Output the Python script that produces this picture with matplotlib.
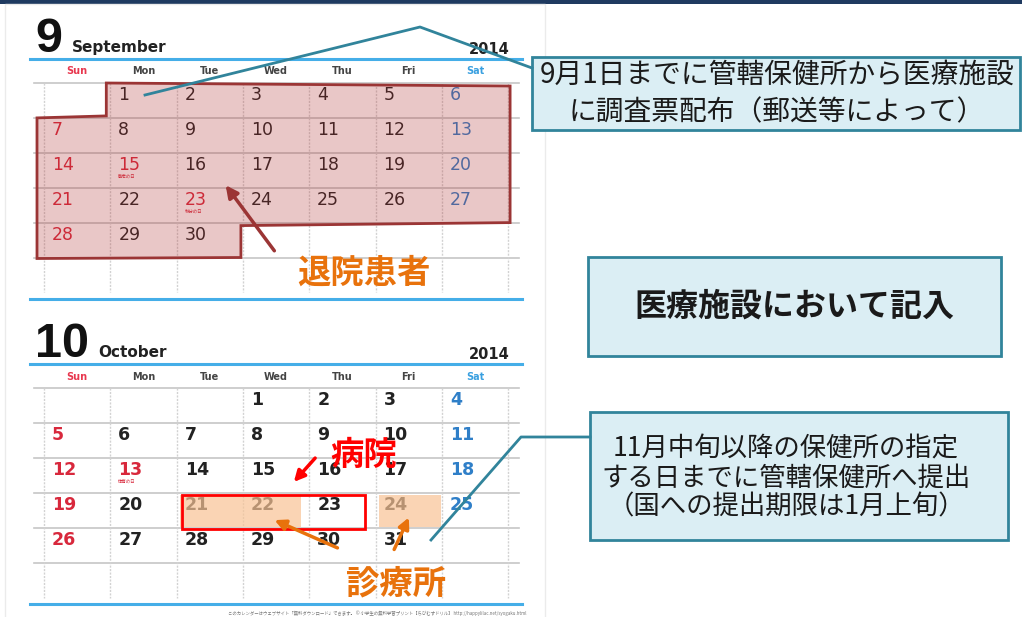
import matplotlib.pyplot as plt
from matplotlib.patches import Rectangle, Polygon

plt.rcParams['font.family'] = ['Noto Sans CJK JP', 'DejaVu Sans']

# calendar data
weekdays = ["Sun", "Mon", "Tue", "Wed", "Thu", "Fri", "Sat"]
months = [9, 10]
month_names = ["September", "October"]
year = "2014"
first_weekday = [1, 3]          # Sept 1 = Mon, Oct 1 = Wed
days_in_month = [30, 31]
holidays = [{15: "敬老の日", 23: "秋分の日"}, {13: "体育の日"}]
day_weight = ['normal', 'bold']

patient_days = (1, 30)          # September, 退院患者
hospital_days = (21, 23)        # October, 病院 (outlined)
hospital_fill = (21, 22)
clinic_days = (24, 24)          # October, 診療所

note_top = "9月1日までに管轄保健所から医療施設\nに調査票配布（郵送等によって）"
note_mid = "医療施設において記入"
note_bottom = "11月中旬以降の保健所の指定\nする日までに管轄保健所へ提出\n（国への提出期限は1月上旬）"

# layout (pixels)
COL0 = 44
COLW = 66.3
ROWH = 34.9
month_tops = [58.6, 364]
name_x = [72, 98]

BLUE = '#45aee8'
TEAL = '#31849b'
BOXFILL = '#dbeef4'
RED_DAY = '#d8283c'
BLUE_DAY = '#2f7fc8'
DARK = '#222222'
ORANGE = '#e8720c'


def cell(top, first_wd, day):
    r, c = divmod(first_wd + day - 1, 7)
    return COL0 + c * COLW, top + 24.4 + r * ROWH


def draw_month(ax, top, num, name, nx, first_wd, ndays, hol, weight):
    ax.text(35, top - 7, str(num), fontsize=35, family='Liberation Sans',
            fontweight='bold', color='#111111', va='baseline')
    ax.text(nx, top - 7, name, fontsize=11, fontweight='bold',
            family='DejaVu Sans', color='#222222', va='baseline')
    ax.text(510, top - 5, year, fontsize=10.5, fontweight='bold',
            family='DejaVu Sans', color='#222222', va='baseline', ha='right')
    ax.plot([30, 522], [top, top], color=BLUE, lw=2.2)
    grid_top = top + 24.4
    for i, wd in enumerate(weekdays):
        col = '#e8384f' if i == 0 else ('#3aa0e0' if i == 6 else '#444444')
        ax.text(COL0 + (i + 0.5) * COLW, top + 12.5, wd, ha='center',
                va='center', fontsize=7, fontweight='bold',
                family='DejaVu Sans', color=col)
    for r in range(6):
        y = grid_top + r * ROWH
        ax.plot([34, 519], [y, y], color='#c6c6c6', lw=1.2)
    for c in range(8):
        x = COL0 + c * COLW
        ax.plot([x, x], [grid_top, grid_top + 6 * ROWH], color='#d2d2d2',
                lw=1, ls=(0, (1.5, 1)))
    bottom = grid_top + 6 * ROWH + 6.5
    ax.plot([30, 522], [bottom, bottom], color=BLUE, lw=2.2)
    for d in range(1, ndays + 1):
        x0, y0 = cell(top, first_wd, d)
        wd = (first_wd + d - 1) % 7
        if wd == 0 or d in hol:
            col = RED_DAY
        elif wd == 6:
            col = BLUE_DAY
        else:
            col = DARK
        ax.text(x0 + 8, y0 + 12, str(d), fontsize=12.5, fontweight=weight,
                family='DejaVu Sans', color=col, va='center', zorder=3)
        if d in hol:
            ax.text(x0 + 8, y0 + 23, hol[d], fontsize=3.2, color=RED_DAY,
                    va='center', zorder=3)


fig = plt.figure(figsize=(10.22, 6.17), dpi=100)
ax = fig.add_axes([0, 0, 1, 1])
ax.set_xlim(0, 1022)
ax.set_ylim(617, 0)
ax.axis('off')

# top band and page
ax.add_patch(Rectangle((0, 0), 1022, 3.5, color='#1f3a60', lw=0))
ax.add_patch(Rectangle((5, 4), 540, 620, facecolor='white',
                       edgecolor='#ebebeb', lw=1))

for i in range(2):
    draw_month(ax, month_tops[i], months[i], month_names[i], name_x[i],
               first_weekday[i], days_in_month[i], holidays[i], day_weight[i])

# September overlay: discharged patients
top = month_tops[0]
fx, fy = cell(top, first_weekday[0], patient_days[0])
lx, ly = cell(top, first_weekday[0], patient_days[1])
left, right = COL0 - 7, COL0 + 7 * COLW + 2
poly = [(fx - 4, fy), (right, fy + 3), (right, ly), (lx + COLW - 2, ly + 3),
        (lx + COLW - 2, ly + ROWH), (left, ly + ROWH + 1), (left, fy + ROWH),
        (fx - 4, fy + ROWH - 2)]
ax.add_patch(Polygon(poly, closed=True, facecolor='#b03030', alpha=0.27,
                     lw=0, zorder=4))
ax.add_patch(Polygon(poly, closed=True, fill=False, edgecolor='#9b3535',
                     lw=2, zorder=5))
ax.annotate('', xy=(224, 183), xytext=(276, 253), zorder=6,
            arrowprops=dict(arrowstyle='-|>', color='#9b3535', lw=2.5,
                            mutation_scale=18))
ax.text(364, 273, "退院患者", fontsize=24, fontweight='bold', color=ORANGE,
        ha='center', va='center', zorder=6)

# October highlights
top = month_tops[1]
for (a, b), inset in [(hospital_fill, 8), (clinic_days, 1)]:
    x0, y0 = cell(top, first_weekday[1], a)
    x1, _ = cell(top, first_weekday[1], b)
    ax.add_patch(Rectangle((x0 + 3, y0 + 2), x1 + COLW - x0 - 3 - inset,
                           ROWH - 3, facecolor='#f8c395', alpha=0.7, lw=0,
                           zorder=4))
hx0, hy0 = cell(top, first_weekday[1], hospital_days[0])
hx1, _ = cell(top, first_weekday[1], hospital_days[1])
ax.add_patch(Rectangle((hx0 + 5, hy0 + 2), hx1 + COLW - 11 - hx0 - 5, ROWH - 1,
                       fill=False, edgecolor='#ff0000', lw=2, zorder=5))
ax.text(364, 455, "病院", fontsize=24, fontweight='bold', color='#ff0000',
        ha='center', va='center', zorder=6)
ax.annotate('', xy=(292, 484), xytext=(317, 456), zorder=6,
            arrowprops=dict(arrowstyle='-|>', color='#ff0000', lw=2.5,
                            mutation_scale=16))
ax.text(396, 584, "診療所", fontsize=24, fontweight='bold', color=ORANGE,
        ha='center', va='center', zorder=6)
for head, tail in [((272, 519), (340, 549)), ((410, 515), (393, 552))]:
    ax.annotate('', xy=head, xytext=tail, zorder=6,
                arrowprops=dict(arrowstyle='-|>', color=ORANGE, lw=2.5,
                                mutation_scale=16))

ax.text(526, 613, "このカレンダーはウェブサイト「無料ダウンロード」できます。 © 小学生の無料学習プリント【ちびむすドリル】 http://happylilac.net/syogaku.html",
        fontsize=3.2, color='#777777', ha='right', va='center')

# callout boxes
boxes = [((532, 57), 488, 73, note_top, 20, 'normal', 777, 93.5, 1.3),
         ((588, 257), 413, 99, note_mid, 23, 'bold', 794, 307, 1.2),
         ((590, 412), 418, 128, note_bottom, 19, 'normal', 786, 478, 1.08)]
for (bx, by), w, h, txt, fs, fw, cx, cy, ls in boxes:
    ax.add_patch(Rectangle((bx, by), w, h, facecolor=BOXFILL, edgecolor=TEAL,
                           lw=2, zorder=2))
    ax.text(cx, cy, txt, fontsize=fs, fontweight=fw, color='#1a1a1a',
            ha='center', va='center', linespacing=ls, zorder=3)

ax.plot([145, 420, 532], [95, 27, 68], color=TEAL, lw=2, zorder=7)
ax.plot([431, 521, 590], [540, 437, 437], color=TEAL, lw=2, zorder=7)

fig.savefig('out.png', dpi=100)
